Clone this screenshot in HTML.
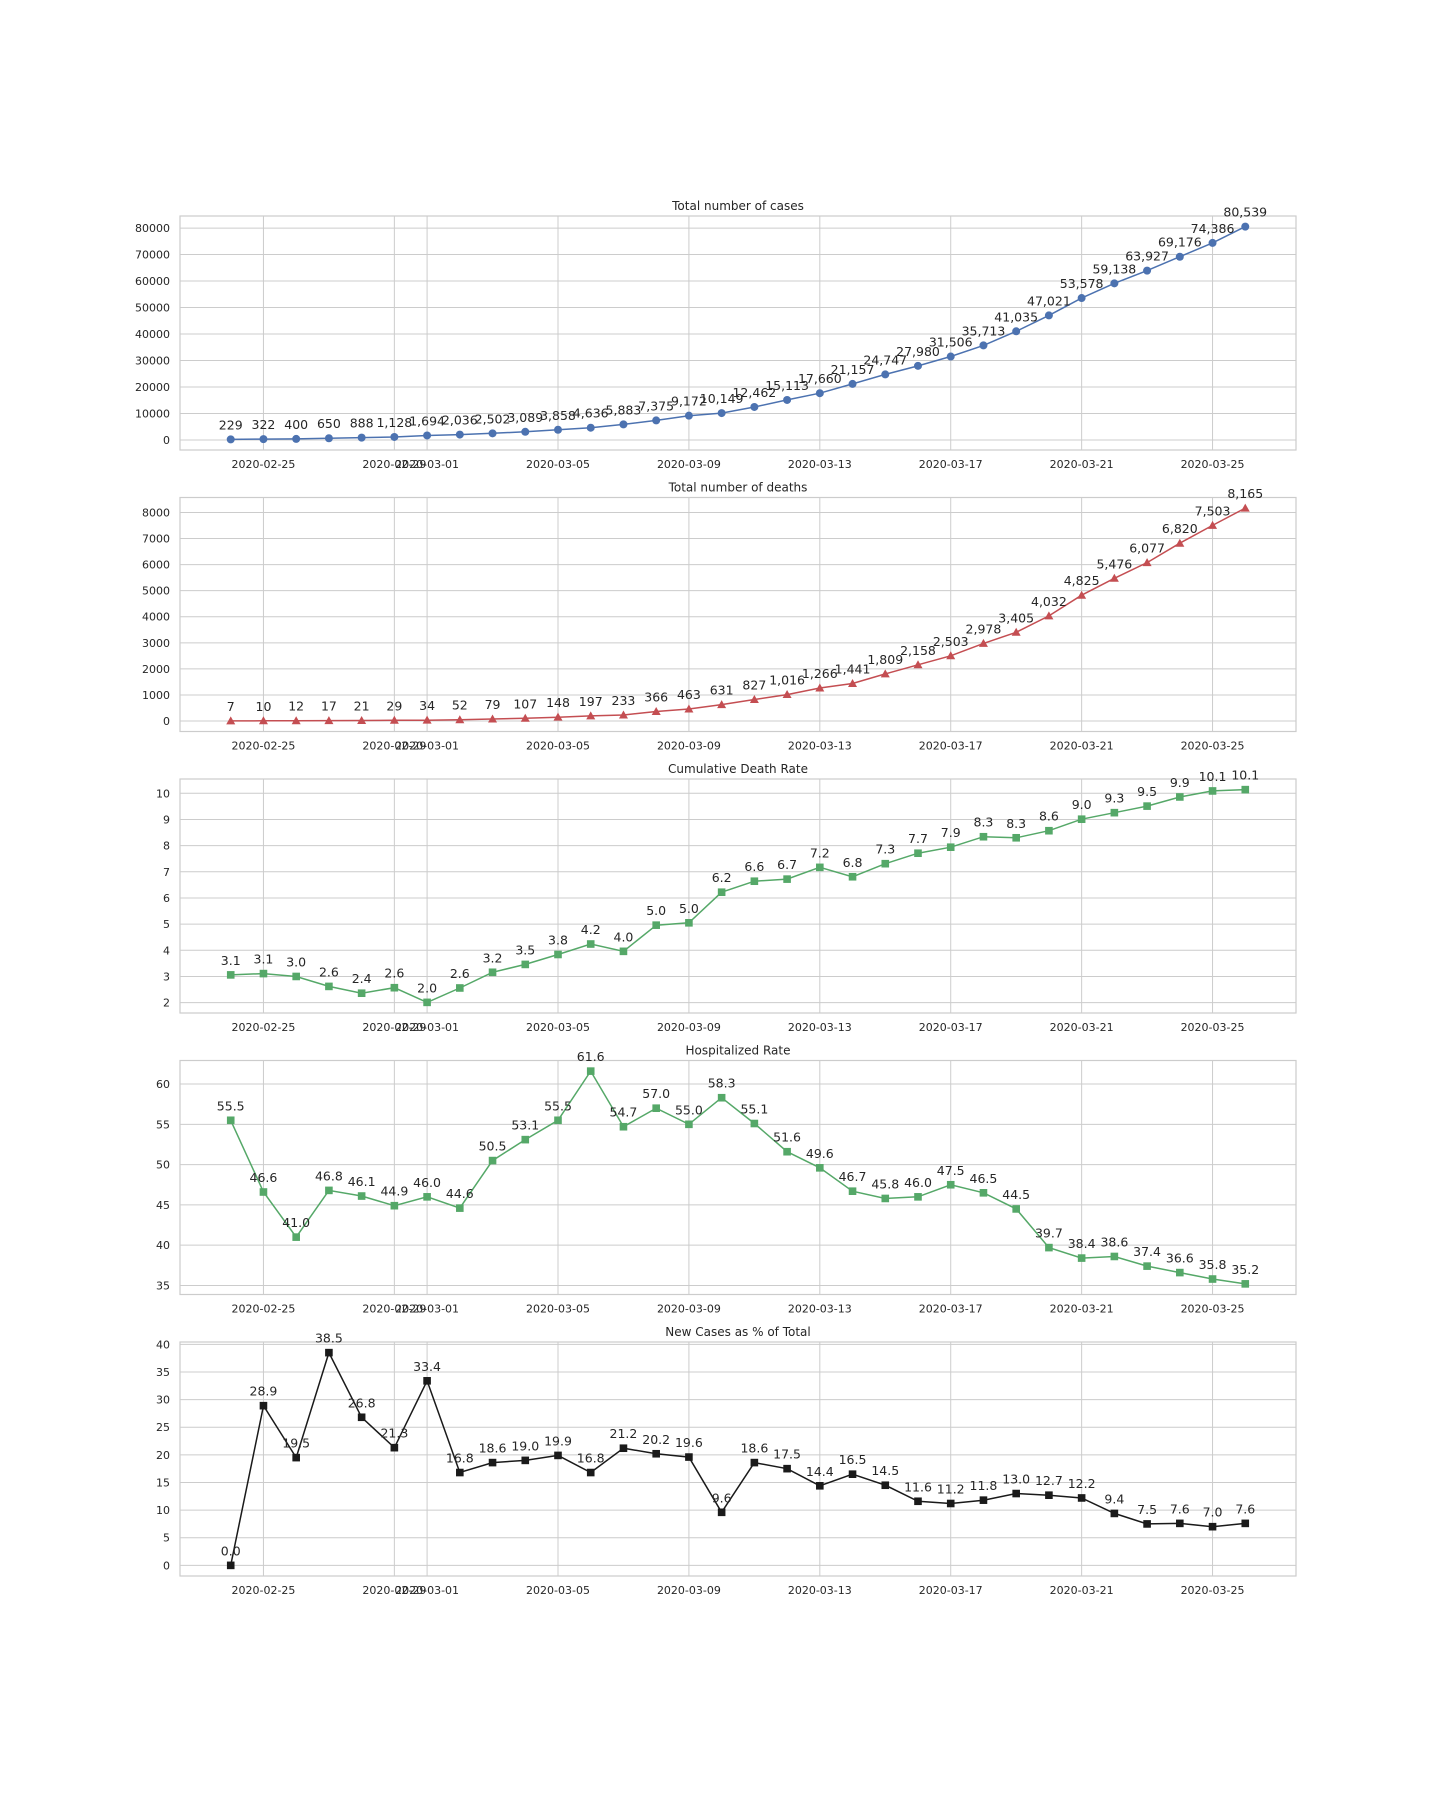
<!DOCTYPE html>
<html><head><meta charset="utf-8"><style>
body{margin:0;background:#fff;}
svg{display:block;font-family:"DejaVu Sans","Liberation Sans",sans-serif;}
</style></head><body>
<svg id="chart" width="1440" height="1800" viewBox="0 0 1440 1800" xmlns="http://www.w3.org/2000/svg"></svg>
<script>
const dates = ["02-24","02-25","02-26","02-27","02-28","02-29","03-01","03-02","03-03","03-04","03-05","03-06","03-07","03-08","03-09","03-10","03-11","03-12","03-13","03-14","03-15","03-16","03-17","03-18","03-19","03-20","03-21","03-22","03-23","03-24","03-25","03-26"];
const xTickLabels = ["2020-02-25","2020-02-29","2020-03-01","2020-03-05","2020-03-09","2020-03-13","2020-03-17","2020-03-21","2020-03-25"];
const xTickIdx = [1,5,6,10,14,18,22,26,30];
const cases = [229,322,400,650,888,1128,1694,2036,2502,3089,3858,4636,5883,7375,9172,10149,12462,15113,17660,21157,24747,27980,31506,35713,41035,47021,53578,59138,63927,69176,74386,80539];
const deaths = [7,10,12,17,21,29,34,52,79,107,148,197,233,366,463,631,827,1016,1266,1441,1809,2158,2503,2978,3405,4032,4825,5476,6077,6820,7503,8165];
const deathRate = [3.06,3.11,3.0,2.62,2.36,2.57,2.01,2.56,3.16,3.46,3.84,4.24,3.96,4.96,5.05,6.22,6.64,6.72,7.17,6.81,7.31,7.71,7.94,8.34,8.30,8.57,9.01,9.26,9.51,9.86,10.09,10.14];
const hospRate = [55.5,46.6,41.0,46.8,46.1,44.9,46.0,44.6,50.5,53.1,55.5,61.6,54.7,57.0,55.0,58.3,55.1,51.6,49.6,46.7,45.8,46.0,47.5,46.5,44.5,39.7,38.4,38.6,37.4,36.6,35.8,35.2];
const newCasesPct = [0.0,28.9,19.5,38.5,26.8,21.3,33.4,16.8,18.6,19.0,19.9,16.8,21.2,20.2,19.6,9.6,18.6,17.5,14.4,16.5,14.5,11.6,11.2,11.8,13.0,12.7,12.2,9.4,7.5,7.6,7.0,7.6];
const ticks1 = [0,10000,20000,30000,40000,50000,60000,70000,80000];
const ticks2 = [0,1000,2000,3000,4000,5000,6000,7000,8000];
const ticks3 = [2,3,4,5,6,7,8,9,10];
const ticks4 = [35,40,45,50,55,60];
const ticks5 = [0,5,10,15,20,25,30,35,40];

const panels = [
 {name:"total-cases",title:"Total number of cases",data:cases,ticks:ticks1,color:"#4c72b0",marker:"circle",fmt:v=>v.toLocaleString("en-US")},
 {name:"total-deaths",title:"Total number of deaths",data:deaths,ticks:ticks2,color:"#c44e52",marker:"tri",fmt:v=>v.toLocaleString("en-US")},
 {name:"death-rate",title:"Cumulative Death Rate",data:deathRate,ticks:ticks3,color:"#55a868",marker:"square",fmt:v=>v.toFixed(1)},
 {name:"hospitalized-rate",title:"Hospitalized Rate",data:hospRate,ticks:ticks4,color:"#55a868",marker:"square",fmt:v=>v.toFixed(1)},
 {name:"new-cases-pct",title:"New Cases as % of Total",data:newCasesPct,ticks:ticks5,color:"#1a1a1a",marker:"square",fmt:v=>v.toFixed(1)}
];
const svg=document.getElementById('chart');
const NS="http://www.w3.org/2000/svg";
function mk(tag,attrs,parent,text){const e=document.createElementNS(NS,tag);for(const k in attrs)e.setAttribute(k,attrs[k]);if(text!==undefined)e.textContent=text;parent.appendChild(e);return e;}
const L=180,R=1296,H=234;
const n=dates.length;
const xm=(n-1)*0.05;
function xs(i){return L+(i+xm)/(n-1+2*xm)*(R-L);}
panels.forEach((p,pi)=>{
 const top=216+pi*281.5, bot=top+H;
 const g=mk('g',{},svg);
 
 
 const mn=Math.min(...p.data),mx=Math.max(...p.data),pad=(mx-mn)*0.05;
 const y0=mn-pad,y1=mx+pad;
 const ys=v=>bot-(v-y0)/(y1-y0)*H;
 const t=mk('text',{x:(L+R)/2,y:top-6,'text-anchor':'middle','font-size':12,fill:'#262626'},g,p.title);
 
 p.ticks.forEach(v=>{
  const y=ys(v);
  const gl=mk('line',{x1:L,x2:R,y1:y,y2:y,stroke:'#cccccc','stroke-width':1},g);
  
  const tl=mk('text',{x:170,y:y+4,'text-anchor':'end','font-size':11,fill:'#262626'},g,String(v));
  
 });
 xTickIdx.forEach((idx,k)=>{
  const x=xs(idx);
  const gl=mk('line',{x1:x,x2:x,y1:top,y2:bot,stroke:'#cccccc','stroke-width':1},g);
  
  const tl=mk('text',{x:x,y:bot+18,'text-anchor':'middle','font-size':11,fill:'#262626'},g,xTickLabels[k]);
  
 });
 const fr=mk('rect',{x:L,y:top,width:R-L,height:H,fill:'none',stroke:'#cccccc','stroke-width':1.2},g);
 
 const pts=p.data.map((v,i)=>xs(i).toFixed(1)+','+ys(v).toFixed(1)).join(' ');
 const ln=mk('polyline',{points:pts,fill:'none',stroke:p.color,'stroke-width':1.5},g);
 
 p.data.forEach((v,i)=>{
  const x=xs(i),y=ys(v);let m;
  if(p.marker==='circle')m=mk('circle',{cx:x,cy:y,r:4,fill:p.color},g);
  else if(p.marker==='tri')m=mk('polygon',{points:`${x},${y-4.5} ${x-4.5},${y+3.5} ${x+4.5},${y+3.5}`,fill:p.color},g);
  else m=mk('rect',{x:x-3.8,y:y-3.8,width:7.6,height:7.6,fill:p.color},g);
  
  const lb=mk('text',{x:x,y:y-10,'text-anchor':'middle','font-size':12.5,fill:'#262626'},g,p.fmt(v));
  
 });
});
</script>
</body></html>
